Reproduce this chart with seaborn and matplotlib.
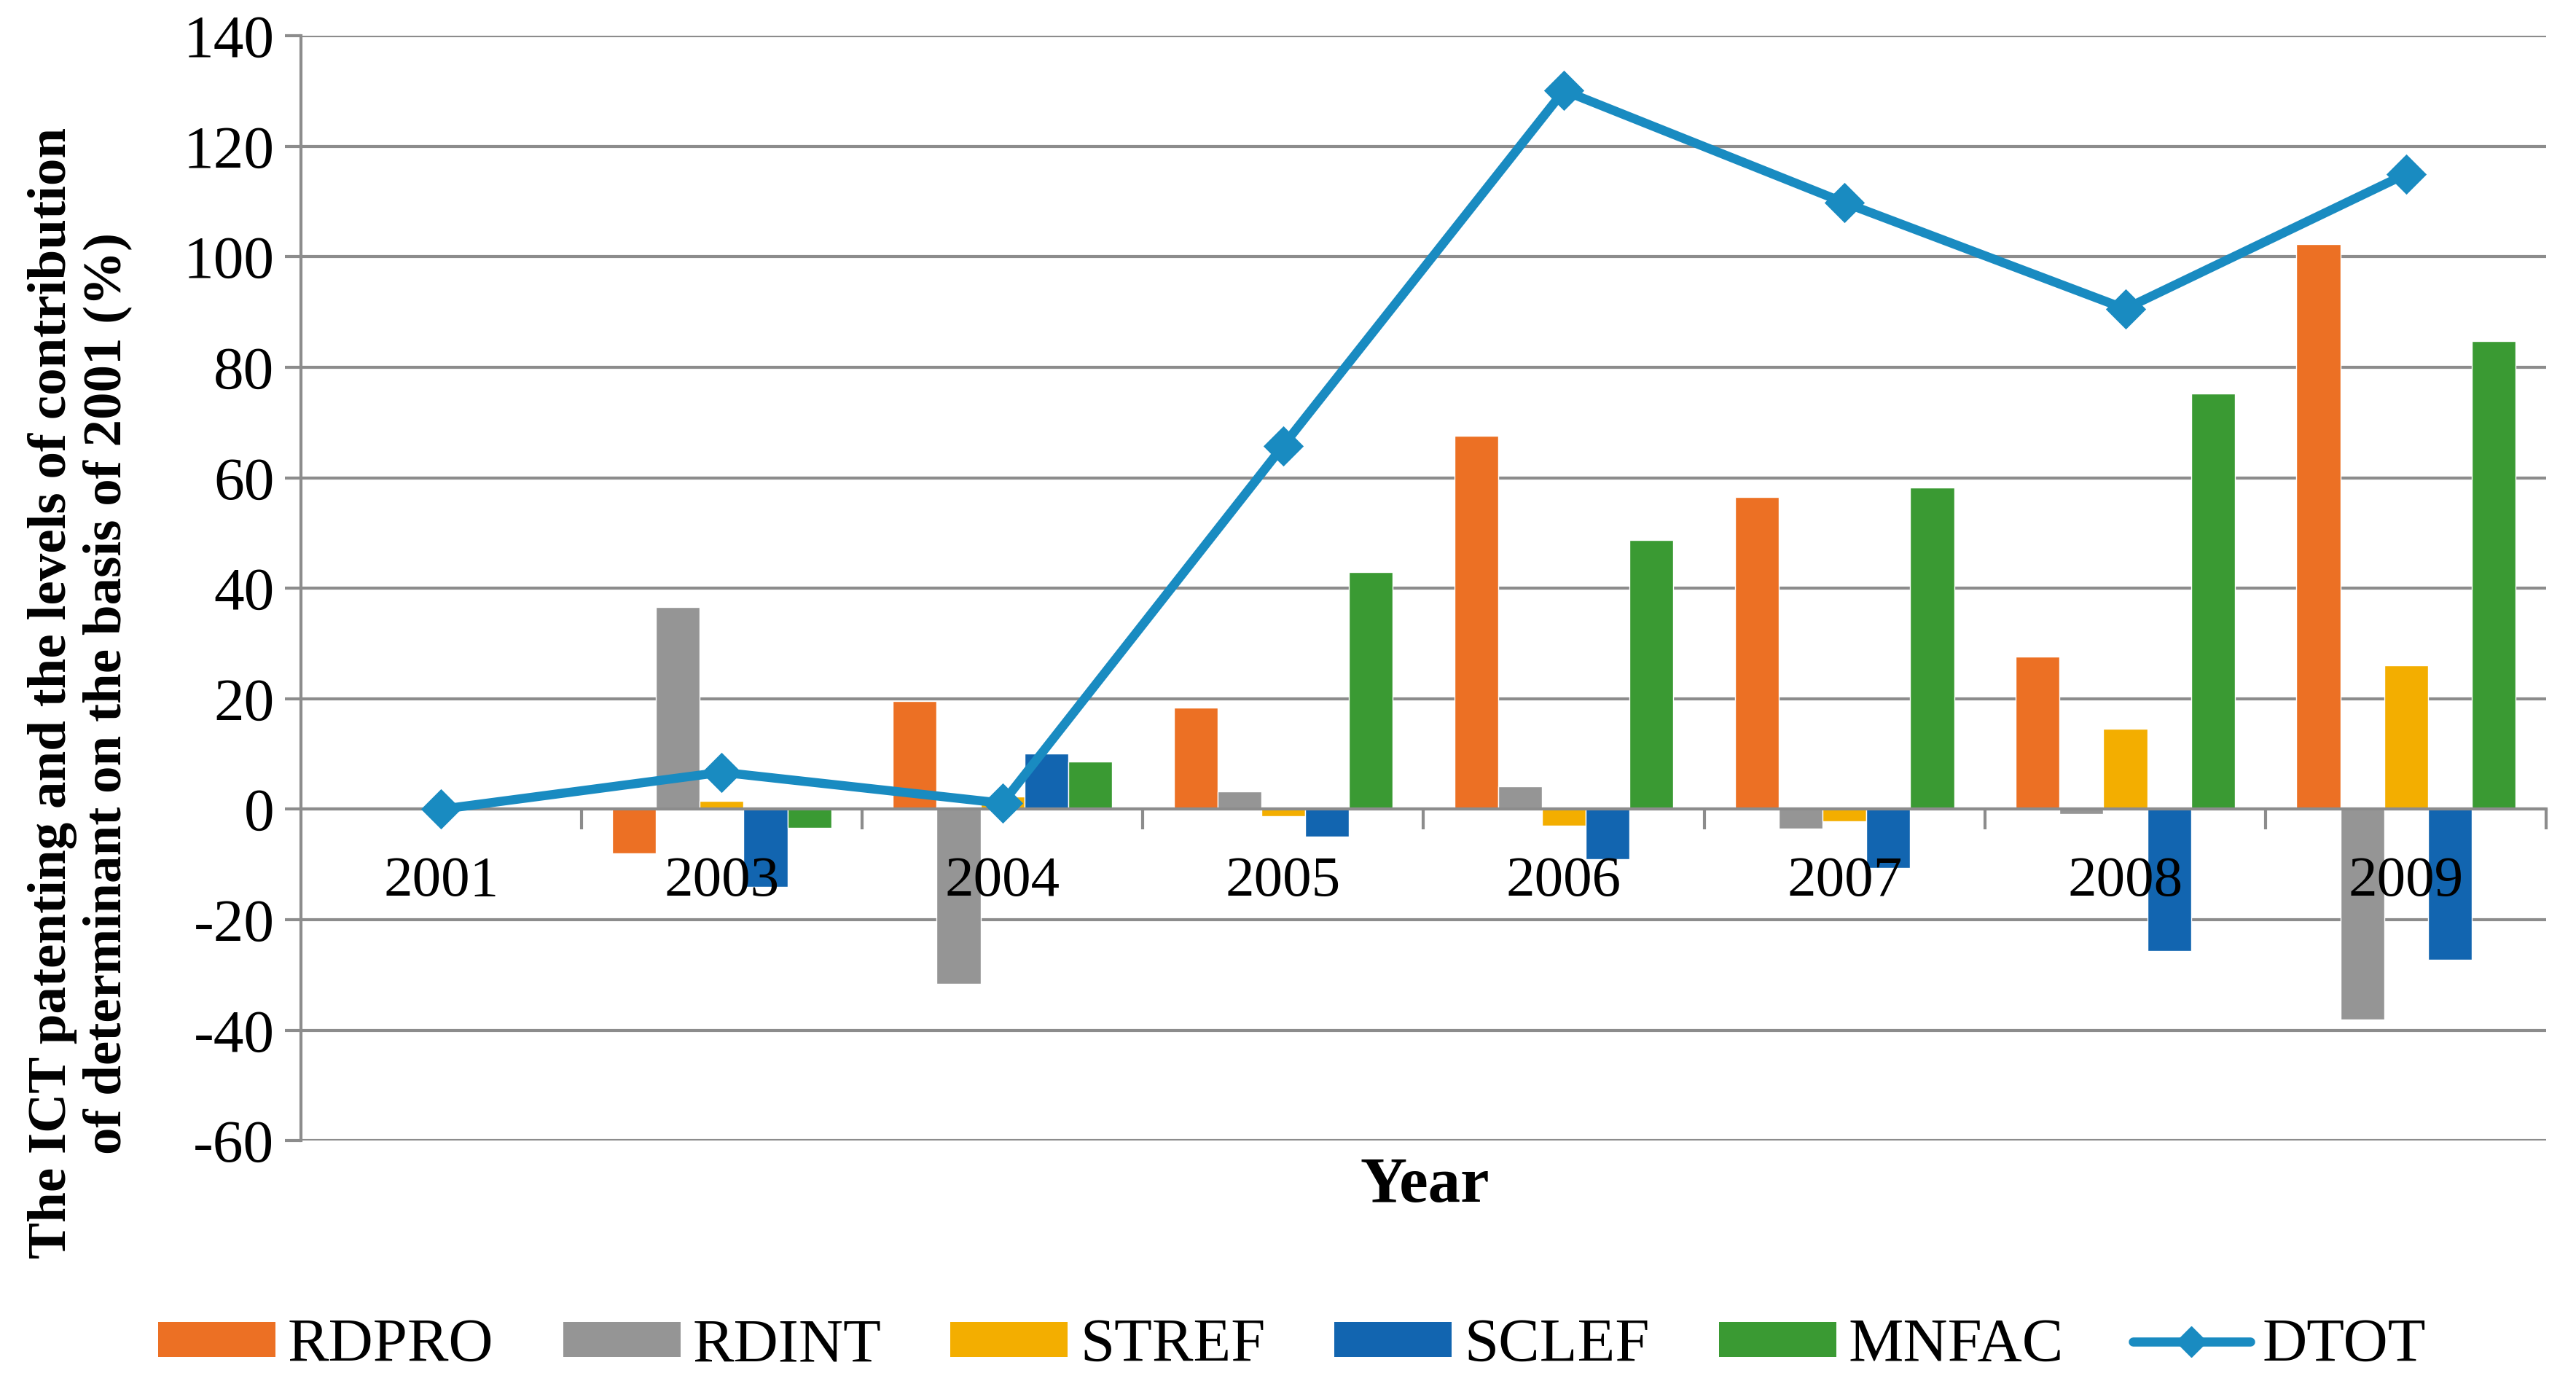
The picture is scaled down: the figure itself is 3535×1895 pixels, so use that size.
import matplotlib
matplotlib.use('Agg')
import matplotlib.pyplot as plt
import seaborn as sns
import pandas as pd
import numpy as np
from matplotlib.lines import Line2D
from matplotlib.patches import Patch

years = ['2001', '2003', '2004', '2005', '2006', '2007', '2008', '2009']
rdpro = [0, -8.0, 19.6, 18.4, 67.6, 56.5, 27.6, 102.3]
rdint = [0, 36.6, -31.6, 3.2, 4.1, -3.5, -0.8, -38.0]
stref = [0, 1.5, 2.3, -1.3, -3.0, -2.2, 14.6, 26.1]
sclef = [0, -14.1, 10.1, -4.9, -9.1, -10.6, -25.7, -27.2]
mnfac = [0, -3.4, 8.6, 43.0, 48.7, 58.2, 75.2, 84.8]
dtot = [0, 6.7, 1.1, 65.8, 130.1, 109.8, 90.6, 115.0]
series_names = ['RDPRO', 'RDINT', 'STREF', 'SCLEF', 'MNFAC']
line_name = 'DTOT'
yticks = list(range(-60, 141, 20))

colors = ['#EC7024', '#959595', '#F3AE00', '#1265B0', '#3A9A33']
line_color = '#198BC1'
grid_color = '#8C8C8C'

sns.set_theme(style='white')
plt.rcParams['font.family'] = ['Liberation Serif', 'DejaVu Serif']
plt.rcParams['text.color'] = 'black'
plt.rcParams['axes.labelcolor'] = 'black'

df = pd.DataFrame({
    'Year': years * len(series_names),
    'value': rdpro + rdint + stref + sclef + mnfac,
    'series': np.repeat(series_names, len(years)),
})

fig = plt.figure(figsize=(35.35, 18.95), dpi=100)
ax = fig.add_axes([0.1167, 0.174, 0.8718, 0.800])

sns.barplot(data=df, x='Year', y='value', hue='series', hue_order=series_names,
            palette=colors, width=0.78, gap=0, saturation=1, errorbar=None,
            legend=False, ax=ax, zorder=2)
sns.pointplot(x=years, y=dtot, color=line_color, markers='D', markersize=21,
              linewidth=9, errorbar=None, ax=ax)
for ln in ax.lines:
    ln.set_zorder(5)

ax.set_xlim(-0.5, 7.5)
ax.set_ylim(-60, 140)
ax.set_yticks(yticks)
ax.set_yticklabels([str(v) for v in yticks])
ax.set_axisbelow(True)
ax.yaxis.grid(True, color=grid_color, linewidth=3)
ax.xaxis.grid(False)
ax.xaxis.set_zorder(6)

for s in ['top', 'right']:
    ax.spines[s].set_visible(False)
ax.spines['left'].set_color(grid_color)
ax.spines['left'].set_linewidth(3)
ax.spines['bottom'].set_position(('data', 0))
ax.spines['bottom'].set_color(grid_color)
ax.spines['bottom'].set_linewidth(3)
ax.spines['bottom'].set_zorder(3)

ax.set_xticks(np.arange(0.5, 8, 1), minor=True)
ax.tick_params(axis='x', which='major', length=0, pad=46, labelsize=57, labelcolor='black')
ax.tick_params(axis='x', which='minor', length=20, width=3, color=grid_color, direction='out', bottom=True)
ax.tick_params(axis='y', which='major', length=16, width=3, color=grid_color, left=True,
               pad=10, labelsize=60, labelcolor='black')

ax.set_xlabel('')
ax.set_ylabel('')
fig.text(0.553, 0.141, 'Year', ha='center', va='center', fontsize=64, fontweight='bold', color='black')
fig.text(0.031, 0.498, 'The ICT patenting and the levels of contribution\nof determinant on the basis of 2001 (%)',
         rotation=90, ha='center', va='center', multialignment='center',
         fontsize=54, fontweight='bold', linespacing=1.15, color='black')

handles = [Patch(facecolor=c, edgecolor='none') for c in colors]
handles.append(Line2D([0], [0], color=line_color, lw=9, marker='D', markersize=21))
leg = fig.legend(handles, series_names + [line_name], loc='center', bbox_to_anchor=(0.5016, 0.025),
                 ncol=6, frameon=False, fontsize=61, handlelength=1.9, handleheight=0.5,
                 handletextpad=0.2, columnspacing=1.12)
for t in leg.get_texts():
    t.set_color('black')

fig.savefig('out.png', dpi=100)
